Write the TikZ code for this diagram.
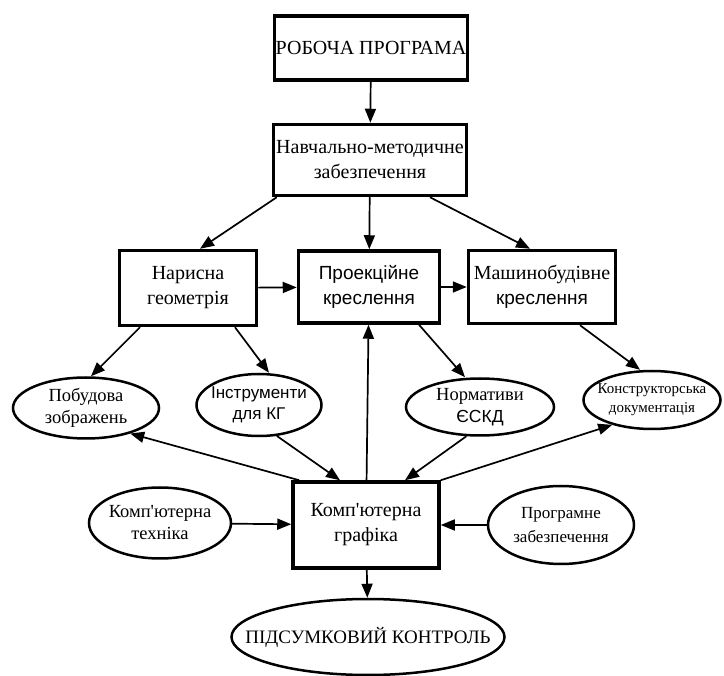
\documentclass[tikz,border=0pt]{standalone}
\usepackage{fontspec}
\setmainfont{Liberation Serif}[Ligatures=TeXOff]
\setsansfont{Liberation Sans}[Ligatures=TeXOff]
\usetikzlibrary{arrows.meta,shapes.geometric}
\tikzset{
  blockbox/.style = {draw,line width=3.5pt,align=center,inner sep=1pt,
                     font=\fontsize{20}{25}\selectfont},
  ovalnode/.style = {ellipse,draw,line width=2.5pt,align=center,
                     inner xsep=-40pt,inner ysep=-15pt,
                     font=\fontsize{18.5}{22}\selectfont},
  flowarr/.style  = {-{Triangle[length=14pt,width=11pt]},line width=1.7pt}
}

\begin{document}
\begin{tikzpicture}[x=1pt,y=-1pt]
  \useasboundingbox (0,0) rectangle (724,676);
  \node[blockbox,minimum width=191pt,minimum height=64pt] (rp) at (371,48) {РОБОЧА ПРОГРАМА};
  \node[blockbox,minimum width=193pt,minimum height=71pt] (nmz) at (370,160)
       {Навчально-методичне\\забезпечення};
  \node[blockbox,minimum width=137pt,minimum height=75pt] (nar) at (188,288)
       {Нарисна\\геометрія};
  \node[blockbox,minimum width=141pt,minimum height=72pt,font=\fontsize{19}{25}\sffamily] (pro) at (369,287)
       {Проекційне\\креслення};
  \node[blockbox,minimum width=147pt,minimum height=73pt] (mash) at (542,287)
       {Машинобудівне\\{\fontsize{19}{25}\sffamily креслення}};
  \node[blockbox,minimum width=146pt,minimum height=86pt] (kg) at (366,525)
       {Комп'ютерна\\графіка};

  \node[ovalnode,minimum width=146pt,minimum height=61pt] (pob) at (86,408) {Побудова\\зображень};
  \node[ovalnode,minimum width=125pt,minimum height=62pt,font=\fontsize{17}{21}\sffamily] (instr) at (259,405)
       {Інструменти\\для КГ};
  \node[ovalnode,minimum width=148pt,minimum height=57pt] (norm) at (480,407)
       {Нормативи\\{\fontsize{17.5}{22}\sffamily ЄСКД}};
  \node[ovalnode,minimum width=137pt,minimum height=58pt,font=\fontsize{15}{19}\selectfont] (kon) at (652,400)
       {Конструкторська\\документація};
  \node[ovalnode,minimum width=142pt,minimum height=71pt] (tech) at (160,523) {Комп'ютерна\\техніка};
  \node[ovalnode,minimum width=146pt,minimum height=78pt,font=\fontsize{17}{24}\selectfont] (prog) at (561,525)
       {Програмне\\забезпечення};
  \node[ovalnode,minimum width=273pt,minimum height=76pt,font=\fontsize{19}{22}\selectfont] (pid) at (368,637)
       {ПІДСУМКОВИЙ КОНТРОЛЬ};

  \draw[flowarr] (rp) -- (nmz);
  \draw[flowarr] ([xshift=5pt]nmz.south west) -- ([xshift=12pt]nar.north);
  \draw[flowarr] (nmz) -- (pro);
  \draw[flowarr] ([xshift=60pt]nmz.south) -- ([xshift=-12pt]mash.north);
  \draw[flowarr] (nar) -- (pro);
  \draw[flowarr] (pro) -- (mash);
  \draw[flowarr] ([xshift=-48pt]nar.south) -- ([xshift=5pt]pob.north);
  \draw[flowarr] ([xshift=47pt]nar.south) -- ([xshift=10pt]instr.north);
  \draw[flowarr] ([xshift=50pt]pro.south) -- ([xshift=-15pt]norm.north);
  \draw[flowarr] ([xshift=38pt]mash.south) -- ([xshift=-12pt]kon.north);
  \draw[flowarr] ([xshift=8pt]kg.north west) -- (pob.-30);
  \draw[flowarr] (instr.-60) -- ([xshift=-26pt]kg.north);
  \draw[flowarr] (kg) -- (pro);
  \draw[flowarr] (norm.-115) -- ([xshift=39pt]kg.north);
  \draw[flowarr] (kg.north east) -- (kon.-148);
  \draw[flowarr] (tech) -- (kg);
  \draw[flowarr] (prog) -- (kg);
  \draw[flowarr] (kg) -- (pid);
\end{tikzpicture}
\end{document}
